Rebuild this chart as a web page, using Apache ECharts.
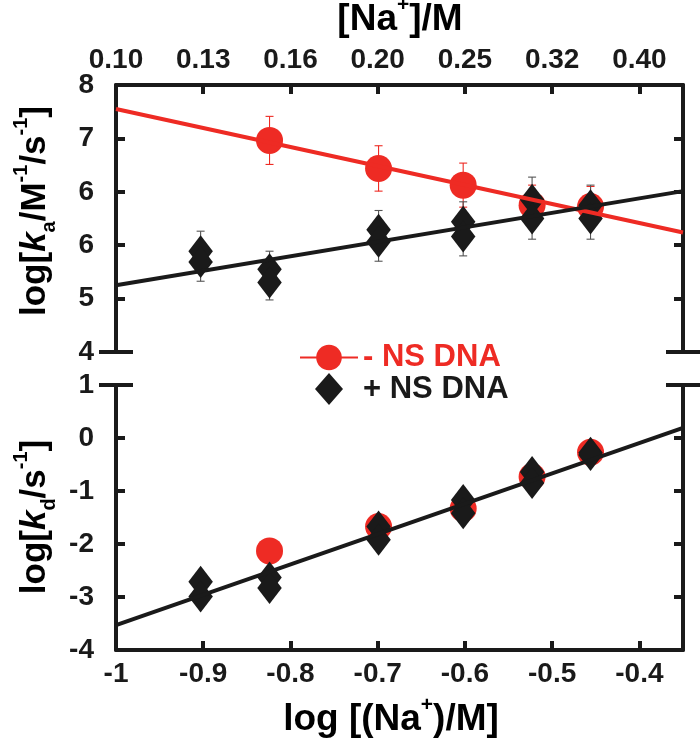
<!DOCTYPE html>
<html><head><meta charset="utf-8">
<script src="https://cdn.jsdelivr.net/npm/echarts@6/dist/echarts.min.js"></script>
<style>html,body{margin:0;padding:0;background:#fff}#c{width:700px;height:748px}</style>
</head><body><div id="c"></div>
<script>
const FONT = 'Liberation Sans';
const RED = '#ee2b24';
const BLACK = '#1a1a1a';
const ERRGRAY = '#555555';

// tick labels
const naTickLabels = ['0.10', '0.13', '0.16', '0.20', '0.25', '0.32', '0.40'];
const kaTickLabels = ['4', '5', '6', '6', '7', '8'];

// x positions: log [Na+]
const logNa = [-0.903, -0.824, -0.699, -0.602, -0.523, -0.456];
const logNaMinus = [-0.824, -0.699, -0.602, -0.523, -0.456];
const fitX = [-1, -0.35];

// top panel: log ka
const kaMinus = [7.17, 6.75, 6.50, 6.20, 6.18];
const kaMinusErr = [0.36, 0.34, 0.33, 0.30, 0.30];
const kaPlusA = [5.51, 5.24, 5.83, 5.95, 6.28, 6.20];
const kaPlusAErr = [0.30, 0.27, 0.29, 0.30, 0.34, 0.30];
const kaPlusB = [5.35, 5.04, 5.65, 5.73, 6.00, 6.00];
const kaPlusBErr = [0.29, 0.26, 0.29, 0.29, 0.31, 0.31];
const kaMinusFit = [7.64, 5.79];
const kaPlusFit = [5.00, 6.41];

// bottom panel: log kd
const kdMinus = [-2.13, -1.67, -1.33, -0.73, -0.27];
const kdPlusA = [-2.71, -2.63, -1.67, -1.17, -0.64, -0.28];
const kdPlusB = [-2.99, -2.83, -1.92, -1.42, -0.85, -0.32];
const kdFit = [-3.53, 0.19];

const pairs = (xs, ys) => xs.map((x, i) => [x, ys[i]]);
const errs = (xs, ys, es) => xs.map((x, i) => [x, ys[i] - es[i], ys[i] + es[i]]);

const DIAMOND = 'path://M14,0 L28,16 L14,32 L0,16 Z';
const lineSt = { color: BLACK, width: 4 };
const labelSt = { color: BLACK, fontSize: 28, fontWeight: 'bold', fontFamily: FONT };

function errRender(color) {
  return function (params, api) {
    const x = api.value(0), lo = api.value(1), hi = api.value(2);
    const t = api.coord([x, hi]), b = api.coord([x, lo]);
    const w = 4;
    const style = { stroke: color, lineWidth: 1.1 };
    return { type: 'group', children: [
      { type: 'line', shape: { x1: t[0], y1: t[1], x2: b[0], y2: b[1] }, style },
      { type: 'line', shape: { x1: t[0] - w, y1: t[1], x2: t[0] + w, y2: t[1] }, style },
      { type: 'line', shape: { x1: b[0] - w, y1: b[1], x2: b[0] + w, y2: b[1] }, style }
    ]};
  };
}

function yAx(grid, pos, min, max, interval, extra) {
  return Object.assign({
    gridIndex: grid, type: 'value', position: pos, min, max, interval,
    axisLine: { show: true, onZero: false, lineStyle: lineSt },
    axisTick: { show: true, inside: true, length: 9, lineStyle: lineSt },
    axisLabel: { show: false },
    splitLine: { show: false }
  }, extra || {});
}
function breakAx(grid, pos, min, max, interval, val) {
  return {
    gridIndex: grid, type: 'value', position: pos, offset: -17, min, max, interval,
    axisLine: { show: false, onZero: false },
    axisTick: { show: true, inside: false, length: 34, customValues: [val], lineStyle: lineSt },
    axisLabel: { show: false },
    splitLine: { show: false }
  };
}

function mkRich(fs) {
  const ss = Math.round(fs * 0.57), lh = Math.round(fs * 1.37);
  return {
    t: { fontSize: fs, fontWeight: 'bold', fontFamily: FONT, color: BLACK, lineHeight: lh, verticalAlign: 'middle' },
    i: { fontSize: fs, fontWeight: 'bold', fontStyle: 'italic', fontFamily: FONT, color: BLACK, lineHeight: lh, verticalAlign: 'middle' },
    sup: { fontSize: ss, fontWeight: 'bold', fontFamily: FONT, color: BLACK, lineHeight: ss, verticalAlign: 'top' },
    sub: { fontSize: ss, fontWeight: 'bold', fontFamily: FONT, color: BLACK, lineHeight: ss, verticalAlign: 'bottom' }
  };
}
const richX = mkRich(37);
const richY = mkRich(35);
function title(x, y, text, rich, rot) {
  return { type: 'text', x, y, rotation: rot || 0, silent: true,
    style: { text, rich, align: 'center', verticalAlign: 'middle' } };
}

const chart = echarts.init(document.getElementById('c'), null, { renderer: 'canvas' });
chart.setOption({
  animation: false,
  backgroundColor: '#fff',
  grid: [
    { left: 116, right: 17, top: 85, height: 267 },
    { left: 116, right: 17, top: 385, height: 265 }
  ],
  xAxis: [
    { gridIndex: 0, type: 'value', position: 'top', min: -1, max: -0.35, interval: 0.1,
      axisLine: { onZero: false, lineStyle: lineSt },
      axisTick: { inside: true, length: 9, lineStyle: lineSt },
      axisLabel: Object.assign({}, labelSt, { margin: 11, showMaxLabel: false,
        formatter: v => naTickLabels[Math.round((v + 1) * 10)] || '' }),
      splitLine: { show: false } },
    { gridIndex: 1, type: 'value', position: 'bottom', min: -1, max: -0.35, interval: 0.1,
      axisLine: { onZero: false, lineStyle: lineSt },
      axisTick: { inside: true, length: 9, lineStyle: lineSt },
      axisLabel: Object.assign({}, labelSt, { margin: 10, showMaxLabel: false,
        formatter: v => Math.abs(v + 0.35) < 1e-6 ? '' : String(Math.round(v * 10) / 10) }),
      splitLine: { show: false } }
  ],
  yAxis: [
    yAx(0, 'left', 4, 8, 0.8, { axisLabel: Object.assign({}, labelSt, { margin: 22,
      formatter: v => kaTickLabels[Math.round((v - 4) / 0.8)] }) }),
    yAx(0, 'right', 4, 8, 0.8),
    breakAx(0, 'left', 4, 8, 0.8, 4),
    breakAx(0, 'right', 4, 8, 0.8, 4),
    yAx(1, 'left', -4, 1, 1, { axisLabel: Object.assign({}, labelSt, { margin: 22 }) }),
    yAx(1, 'right', -4, 1, 1),
    breakAx(1, 'left', -4, 1, 1, 1),
    breakAx(1, 'right', -4, 1, 1, 1)
  ],
  legend: {
    orient: 'vertical', left: 299, top: 342, padding: 0, itemGap: 0,
    itemWidth: 58, itemHeight: 32, selectedMode: false,
    textStyle: { fontSize: 31, fontWeight: 'bold', fontFamily: FONT },
    data: [
      { name: '- NS DNA', textStyle: { color: RED } },
      { name: '+ NS DNA', textStyle: { color: BLACK } }
    ]
  },
  graphic: [
    title(400, 20, '{t|[Na}{sup|+}{t|]/M}', richX),
    title(391, 720, '{t|log [(Na}{sup|+}{t|)/M]}', richX),
    title(35, 211, '{t|log[}{i|k}{sub|a}{t|/M}{sup|-1}{t|/s}{sup|-1}{t|]}', richY, Math.PI / 2),
    title(35, 517, '{t|log[}{i|k}{sub|d}{t|/s}{sup|-1}{t|]}', richY, Math.PI / 2)
  ],
  series: [
    { type: 'line', name: '- NS DNA', xAxisIndex: 0, yAxisIndex: 0, data: pairs(fitX, kaMinusFit),
      symbol: 'circle', showSymbol: false, lineStyle: { color: RED, width: 4 }, itemStyle: { color: RED }, silent: true },
    { type: 'custom', name: 'errR', xAxisIndex: 0, yAxisIndex: 0, renderItem: errRender(RED),
      data: errs(logNaMinus, kaMinus, kaMinusErr), encode: { x: 0, y: [1, 2] }, silent: true },
    { type: 'scatter', name: '- NS DNA', xAxisIndex: 0, yAxisIndex: 0, data: pairs(logNaMinus, kaMinus),
      symbol: 'circle', symbolSize: 27, itemStyle: { color: RED, opacity: 1 } },
    { type: 'line', name: 'fitB', xAxisIndex: 0, yAxisIndex: 0, data: pairs(fitX, kaPlusFit),
      showSymbol: false, lineStyle: { color: BLACK, width: 4 }, itemStyle: { color: BLACK }, silent: true },
    { type: 'custom', name: 'errB', xAxisIndex: 0, yAxisIndex: 0, renderItem: errRender(ERRGRAY),
      data: errs(logNa, kaPlusA, kaPlusAErr).concat(errs(logNa, kaPlusB, kaPlusBErr)),
      encode: { x: 0, y: [1, 2] }, silent: true },
    { type: 'scatter', name: '+ NS DNA', xAxisIndex: 0, yAxisIndex: 0, data: pairs(logNa, kaPlusA),
      symbol: DIAMOND, symbolSize: [28, 32], symbolKeepAspect: true, itemStyle: { color: BLACK, opacity: 1 } },
    { type: 'scatter', name: '+ NS DNA', xAxisIndex: 0, yAxisIndex: 0, data: pairs(logNa, kaPlusB),
      symbol: DIAMOND, symbolSize: [28, 32], symbolKeepAspect: true, itemStyle: { color: BLACK, opacity: 1 } },

    { type: 'scatter', name: '- NS DNA', xAxisIndex: 1, yAxisIndex: 4, data: pairs(logNaMinus, kdMinus),
      symbol: 'circle', symbolSize: 27, itemStyle: { color: RED, opacity: 1 } },
    { type: 'line', name: 'fitB', xAxisIndex: 1, yAxisIndex: 4, data: pairs(fitX, kdFit),
      showSymbol: false, lineStyle: { color: BLACK, width: 4 }, itemStyle: { color: BLACK }, silent: true },
    { type: 'scatter', name: '+ NS DNA', xAxisIndex: 1, yAxisIndex: 4, data: pairs(logNa, kdPlusA),
      symbol: DIAMOND, symbolSize: [28, 32], symbolKeepAspect: true, itemStyle: { color: BLACK, opacity: 1 } },
    { type: 'scatter', name: '+ NS DNA', xAxisIndex: 1, yAxisIndex: 4, data: pairs(logNa, kdPlusB),
      symbol: DIAMOND, symbolSize: [28, 32], symbolKeepAspect: true, itemStyle: { color: BLACK, opacity: 1 } }
  ]
});
</script></body></html>
